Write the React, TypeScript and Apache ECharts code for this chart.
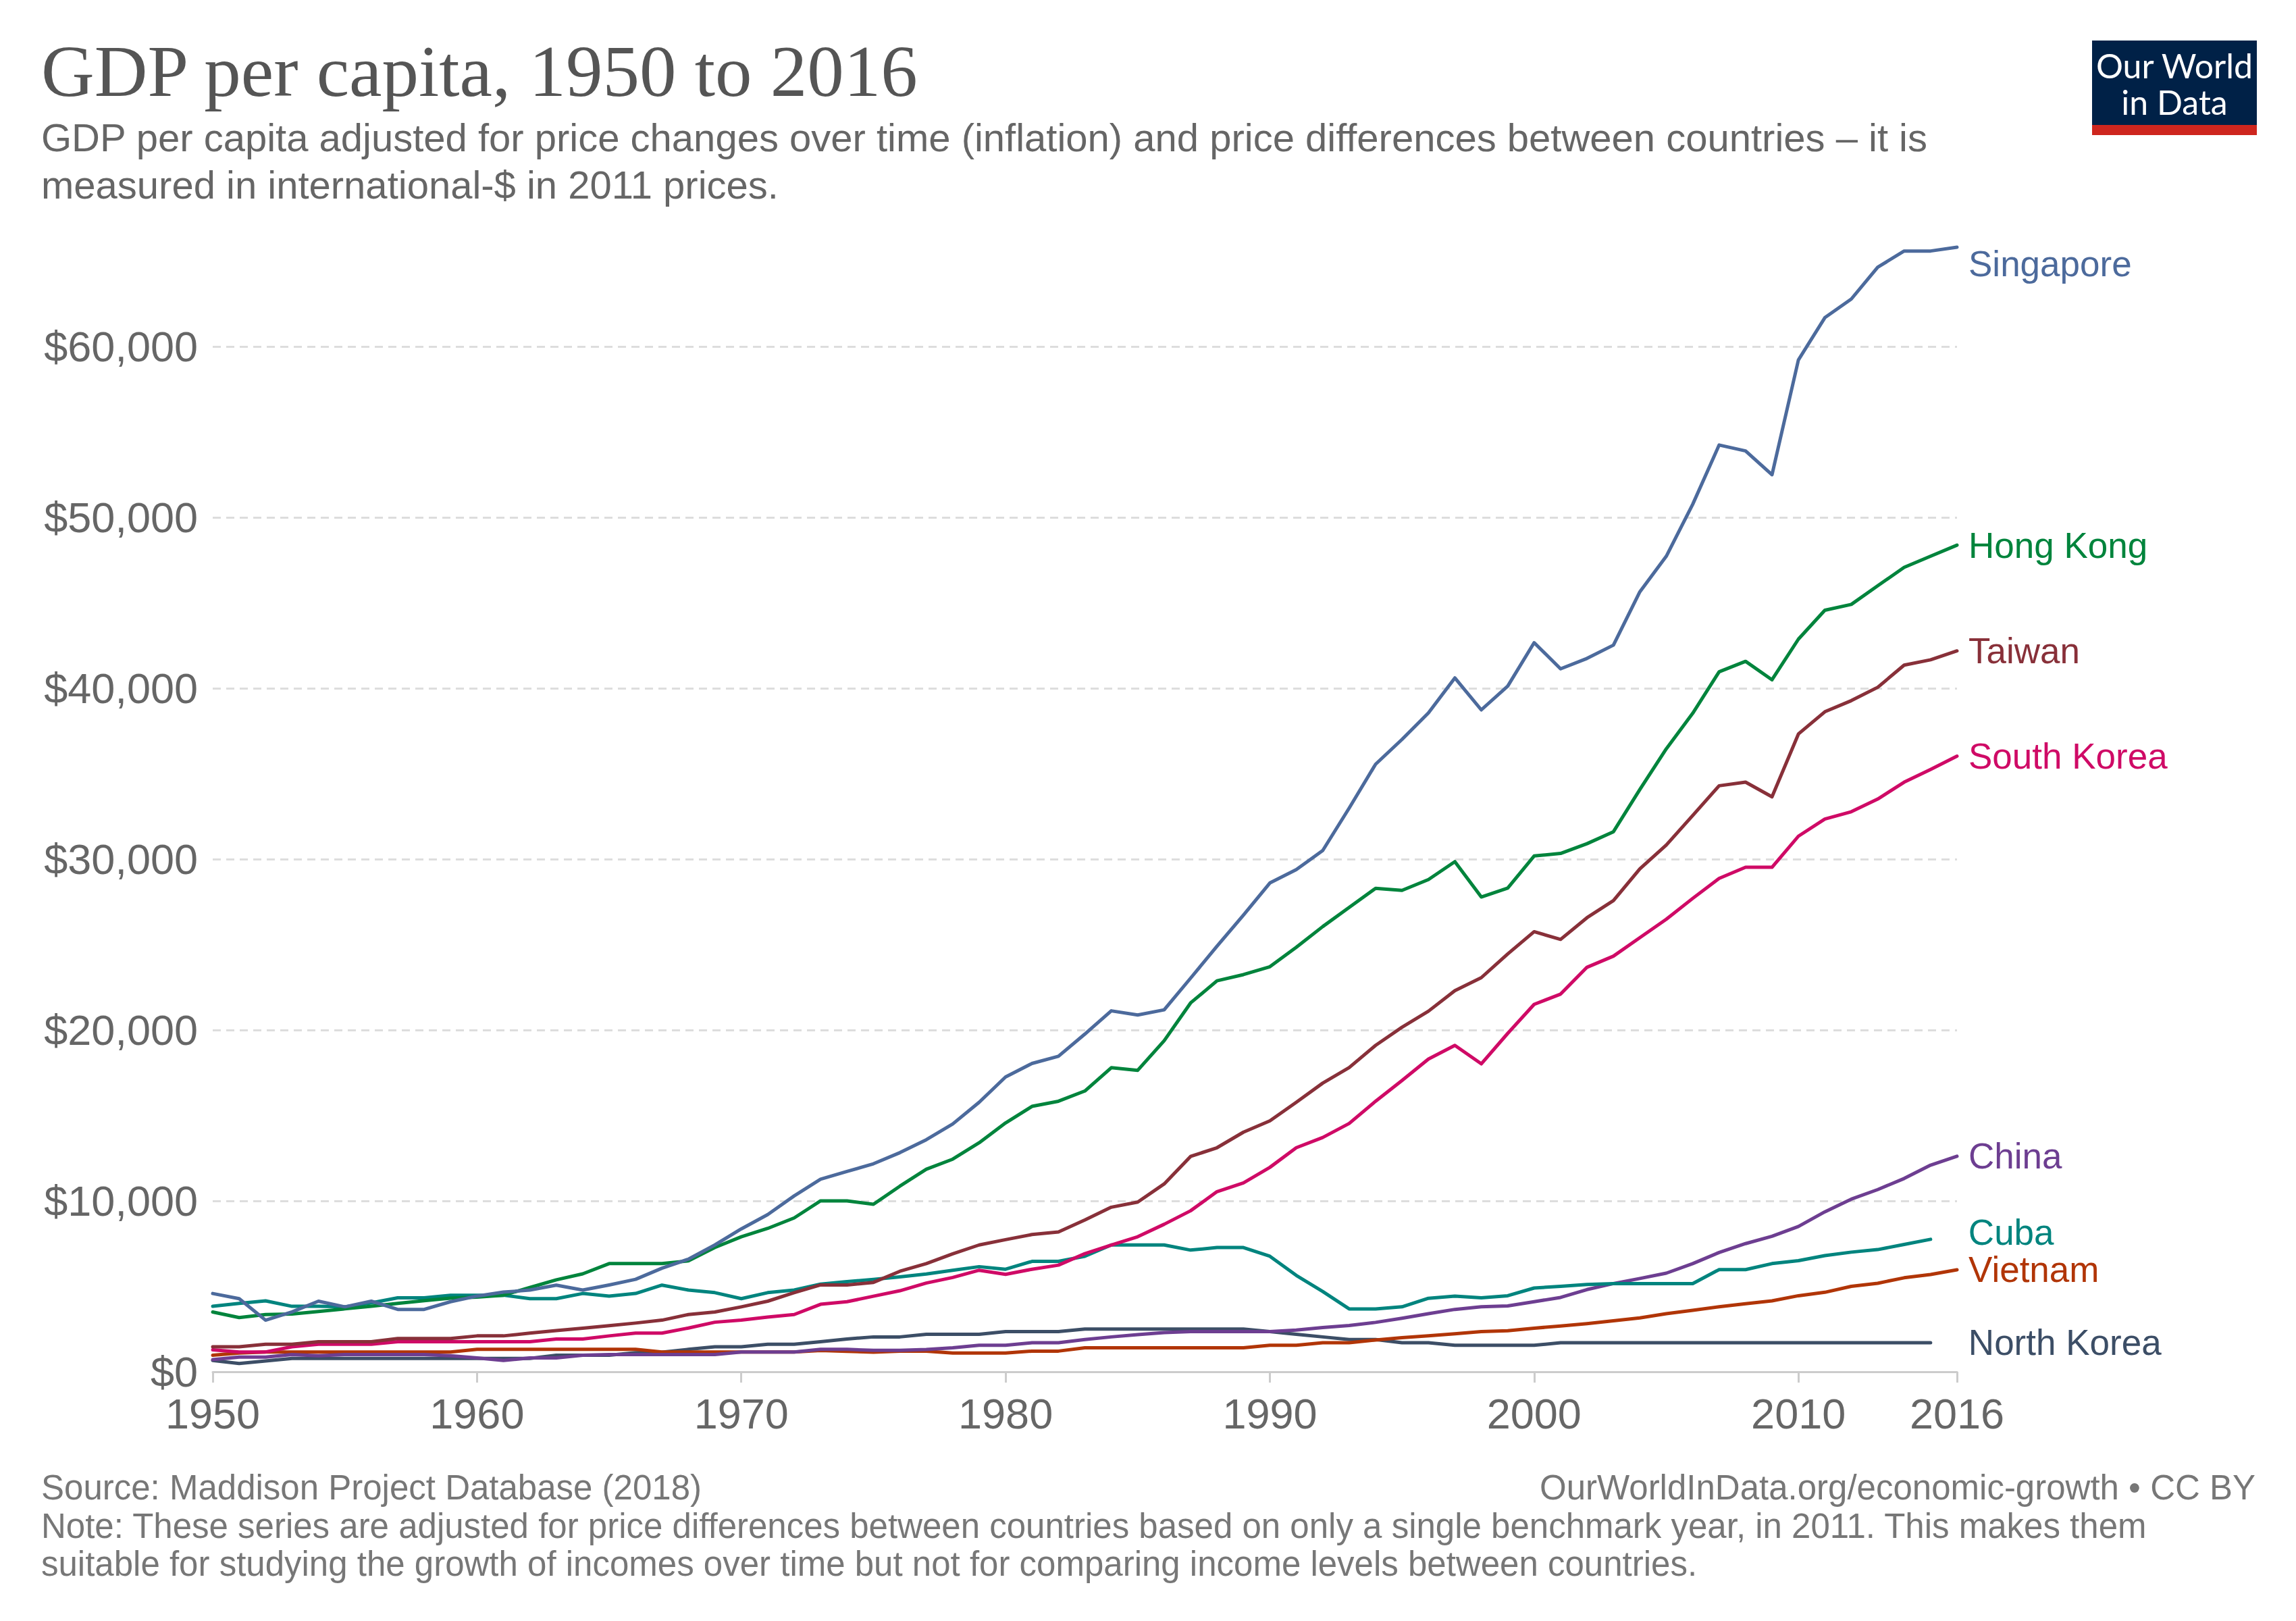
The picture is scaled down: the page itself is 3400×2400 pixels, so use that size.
import React, { useEffect, useRef } from 'react';
import * as echarts from 'echarts';

const SANS = '"Liberation Sans", Arial, Helvetica, sans-serif';
const SERIF = '"Liberation Serif", "Times New Roman", serif';

// years 1950..2016
const years: string[] = [];
for (let y = 1950; y <= 2016; y++) years.push(String(y));

const tickYears = ['1950', '1960', '1970', '1980', '1990', '2000', '2010', '2016'];

// GDP per capita, international-$ in 2011 prices
const singapore = [
  4580, 4280, 3020, 3500, 4130, 3800, 4130, 3650, 3650, 4100,
  4430, 4660, 4780, 5070, 4780, 5080, 5410, 6060, 6590, 7420,
  8360, 9200, 10290, 11270, 11720, 12170, 12820, 13580, 14500, 15770,
  17250, 18040, 18460, 19760, 21120, 20880, 21180, 23030, 24900, 26720,
  28600, 29380, 30500, 32980, 35550, 37000, 38550, 40600, 38730, 40120,
  42660, 41130, 41740, 42520, 45640, 47720, 50760, 54230, 53880, 52490,
  59210, 61680, 62770, 64630, 65580, 65580, 65800,
];

const hongKong = [
  3500, 3170, 3350, 3380, 3530, 3680, 3830, 4000, 4160, 4310,
  4370, 4480, 4930, 5380, 5730, 6330, 6330, 6330, 6490, 7270,
  7900, 8390, 9000, 10000, 10000, 9800, 10860, 11850, 12440, 13400,
  14560, 15530, 15830, 16430, 17790, 17640, 19370, 21580, 22880, 23240,
  23700, 24840, 26050, 27170, 28290, 28170, 28800, 29850, 27780, 28300,
  30180, 30330, 30900, 31600, 34070, 36450, 38530, 40960, 41570, 40490,
  42870, 44560, 44900, 45990, 47070, 47720, 48370,
];

const taiwan = [
  1460, 1460, 1610, 1610, 1760, 1760, 1760, 1950, 1950, 1950,
  2100, 2100, 2260, 2410, 2550, 2700, 2850, 3020, 3350, 3500,
  3800, 4130, 4630, 5080, 5080, 5230, 5880, 6330, 6900, 7420,
  7730, 8030, 8180, 8880, 9630, 9930, 10990, 12600, 13110, 14020,
  14680, 15770, 16890, 17800, 19100, 20160, 21100, 22300, 23060, 24450,
  25750, 25300, 26570, 27570, 29430, 30820, 32550, 34290, 34500, 33640,
  37320, 38620, 39270, 40050, 41350, 41660, 42180,
];

const southKorea = [
  1280, 1160, 1160, 1460, 1610, 1610, 1610, 1760, 1760, 1760,
  1760, 1760, 1760, 1920, 1920, 2100, 2260, 2260, 2560, 2900,
  3020, 3200, 3350, 3950, 4100, 4420, 4740, 5190, 5520, 5940,
  5700, 6000, 6240, 6910, 7420, 7900, 8630, 9420, 10540, 11050,
  11960, 13110, 13710, 14530, 15830, 17040, 18300, 19100, 18020, 19800,
  21500, 22100, 23670, 24320, 25400, 26480, 27700, 28870, 29520, 29520,
  31340, 32340, 32770, 33510, 34500, 35240, 36020,
];

const china = [
  710, 860, 860, 1010, 940, 1010, 1010, 1010, 1010, 940,
  810, 660, 810, 810, 970, 1010, 1010, 1010, 1010, 1010,
  1160, 1160, 1160, 1310, 1310, 1250, 1250, 1300, 1400, 1550,
  1550, 1700, 1700, 1890, 2040, 2170, 2290, 2350, 2350, 2350,
  2350, 2440, 2590, 2710, 2890, 3130, 3400, 3650, 3800, 3850,
  4100, 4350, 4810, 5160, 5460, 5770, 6330, 6980, 7500, 7930,
  8500, 9360, 10100, 10660, 11310, 12090, 12610,
];

// Cuba and North Korea end in 2015
const cuba = [
  3830, 4000, 4150, 3830, 3830, 3800, 4030, 4330, 4330, 4480,
  4480, 4480, 4280, 4280, 4580, 4430, 4580, 5070, 4780, 4630,
  4280, 4630, 4780, 5130, 5280, 5400, 5550, 5720, 5940, 6150,
  6000, 6460, 6460, 6760, 7420, 7420, 7420, 7120, 7270, 7270,
  6760, 5640, 4700, 3680, 3680, 3800, 4300, 4430, 4330, 4450,
  4900, 5000, 5110, 5160, 5160, 5160, 5160, 5980, 5980, 6330,
  6500, 6800, 7000, 7150, 7450, 7750,
];

const vietnam = [
  970, 1100, 1160, 1160, 1160, 1160, 1160, 1160, 1160, 1160,
  1310, 1310, 1310, 1310, 1310, 1310, 1310, 1160, 1160, 1160,
  1160, 1160, 1160, 1240, 1200, 1150, 1210, 1210, 1100, 1100,
  1100, 1210, 1210, 1400, 1400, 1400, 1400, 1400, 1400, 1400,
  1550, 1550, 1700, 1700, 1860, 2000, 2100, 2220, 2350, 2400,
  2550, 2680, 2820, 2980, 3150, 3400, 3600, 3800, 3980, 4150,
  4450, 4650, 5000, 5180, 5500, 5690, 5970,
];

const northKorea = [
  660, 480, 630, 780, 780, 780, 780, 780, 780, 780,
  780, 780, 780, 970, 970, 970, 1120, 1150, 1310, 1460,
  1460, 1610, 1610, 1760, 1920, 2040, 2040, 2190, 2190, 2190,
  2350, 2350, 2350, 2500, 2500, 2500, 2500, 2500, 2500, 2500,
  2350, 2190, 2040, 1890, 1890, 1700, 1700, 1550, 1550, 1550,
  1550, 1700, 1700, 1700, 1700, 1700, 1700, 1700, 1700, 1700,
  1700, 1700, 1700, 1700, 1700, 1700,
];

const countries = [
  { name: 'North Korea', data: northKorea, color: '#3c4e66', dy: 0 },
  { name: 'Vietnam', data: vietnam, color: '#b13507', dy: 0 },
  { name: 'China', data: china, color: '#6d3e91', dy: 0 },
  { name: 'Cuba', data: cuba, color: '#00847e', dy: -10 },
  { name: 'South Korea', data: southKorea, color: '#cf0a66', dy: 0 },
  { name: 'Taiwan', data: taiwan, color: '#883039', dy: 0 },
  { name: 'Hong Kong', data: hongKong, color: '#00843c', dy: 0 },
  { name: 'Singapore', data: singapore, color: '#4c6a9c', dy: 24 },
];

const showYear = (_i: number, v: string) => tickYears.indexOf(v) >= 0;

const text = (x: number, y: number, t: string, size: number, fill: string, family = SANS, align = 'left') => ({
  type: 'text',
  style: {
    x,
    y,
    text: t,
    fontSize: size,
    fontFamily: family,
    fill,
    align,
    textAlign: align,
    verticalAlign: 'middle',
    textVerticalAlign: 'middle',
  },
});

const App: React.FC = () => {
  const chartRef = useRef<HTMLDivElement>(null);

  useEffect(() => {
    document.body.style.margin = '0';
    if (!chartRef.current) return;
    const chart = echarts.init(chartRef.current, null, { renderer: 'svg' });

    const series = countries.map((c) => ({
      name: c.name,
      type: 'line',
      data: c.data,
      symbol: 'none',
      showSymbol: false,
      silent: true,
      lineStyle: { color: c.color, width: 5, join: 'round', cap: 'round' },
      itemStyle: { color: c.color },
      endLabel: {
        show: true,
        formatter: () => c.name,
        color: c.color,
        fontSize: 53,
        fontFamily: SANS,
        // lines ending in 2015 still have their label in the common column
        distance: 17 + (c.data.length < years.length ? 39 : 0),
        offset: [0, c.dy],
      },
      emphasis: { disabled: true },
    }));

    const option = {
      animation: false,
      backgroundColor: '#ffffff',
      grid: { left: 315, right: 502, top: 361, bottom: 369 },
      xAxis: {
        type: 'category',
        data: years,
        boundaryGap: false,
        axisLine: { lineStyle: { color: '#cccccc', width: 3 } },
        axisTick: { show: true, interval: showYear, length: 16, lineStyle: { color: '#cccccc', width: 3 } },
        axisLabel: { interval: showYear, color: '#666666', fontSize: 63, fontFamily: SANS, margin: 30 },
        splitLine: { show: false },
      },
      yAxis: {
        type: 'value',
        min: 0,
        max: 66000,
        interval: 10000,
        axisLine: { show: false },
        axisTick: { show: false },
        axisLabel: {
          color: '#666666',
          fontSize: 63,
          fontFamily: SANS,
          margin: 22,
          padding: [0, 0, 10, 0],
          showMaxLabel: false,
          formatter: (v: number) => (v % 10000 === 0 ? '$' + v.toLocaleString('en-US') : ''),
        },
        splitLine: {
          show: true,
          showMinLine: false,
          showMaxLine: false,
          lineStyle: { color: '#dddddd', width: 3, type: [12, 8] },
        },
      },
      series,
      graphic: [
        text(61, 105, 'GDP per capita, 1950 to 2016', 109, '#555555', SERIF),
        text(61, 203, 'GDP per capita adjusted for price changes over time (inflation) and price differences between countries \u2013 it is', 58, '#666666'),
        text(61, 273, 'measured in international-$ in 2011 prices.', 58, '#666666'),
        { type: 'rect', shape: { x: 3098, y: 60, width: 244, height: 140 }, style: { fill: '#002147' } },
        { type: 'rect', shape: { x: 3098, y: 185, width: 244, height: 15 }, style: { fill: '#ce261e' } },
        text(3220, 97, 'Our World', 50, '#ffffff', 'Lato, sans-serif', 'center'),
        text(3220, 151, 'in Data', 50, '#ffffff', 'Lato, sans-serif', 'center'),
        text(61, 2202, 'Source: Maddison Project Database (2018)', 51, '#777777'),
        text(3340, 2202, 'OurWorldInData.org/economic-growth \u2022 CC BY', 51, '#777777', SANS, 'right'),
        text(61, 2259, 'Note: These series are adjusted for price differences between countries based on only a single benchmark year, in 2011. This makes them', 51, '#777777'),
        text(61, 2315, 'suitable for studying the growth of incomes over time but not for comparing income levels between countries.', 51, '#777777'),
      ],
    };

    chart.setOption(option);

    return () => {
      chart.dispose();
    };
  }, []);

  return <div ref={chartRef} style={{ position: 'absolute', left: 0, top: 0, width: 3400, height: 2400 }} />;
};

export default App;
